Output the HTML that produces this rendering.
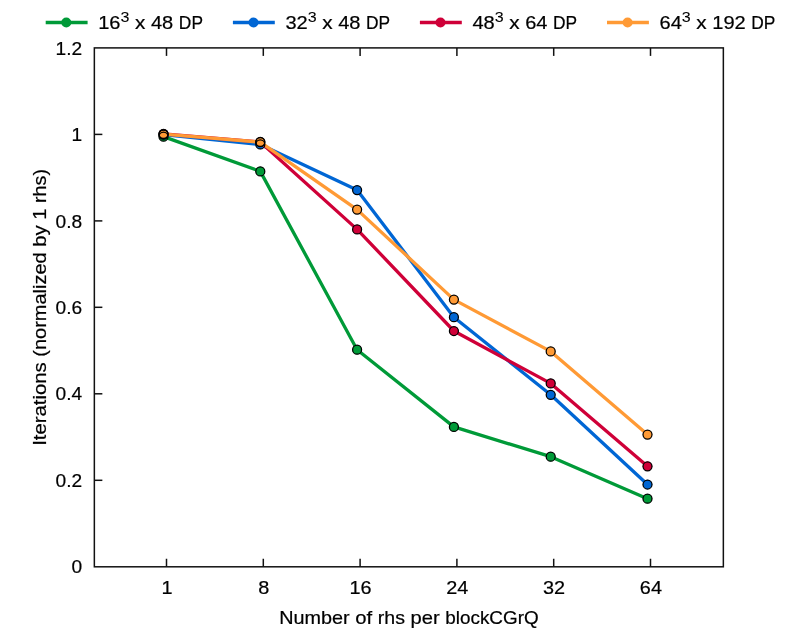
<!DOCTYPE html>
<html><head><meta charset="utf-8"><title>chart</title>
<style>
html,body{margin:0;padding:0;background:#fff;}
svg{display:block;will-change:transform;}
text{font-family:"Liberation Sans",sans-serif;fill:#000;stroke:#000;stroke-width:0.2px;}
</style></head><body>
<svg width="789" height="631" viewBox="0 0 789 631">
<rect x="0" y="0" width="789" height="631" fill="#ffffff"/>
<polyline points="163.5,136.65 260.3,171.40 357.1,349.70 453.9,426.90 550.7,456.70 647.5,498.70" fill="none" stroke="#009a38" stroke-width="3.3" stroke-linejoin="round" stroke-linecap="butt"/>
<circle cx="163.5" cy="136.65" r="4.7" fill="#009a38"/>
<circle cx="260.3" cy="171.40" r="4.7" fill="#009a38"/>
<circle cx="357.1" cy="349.70" r="4.7" fill="#009a38"/>
<circle cx="453.9" cy="426.90" r="4.7" fill="#009a38"/>
<circle cx="550.7" cy="456.70" r="4.7" fill="#009a38"/>
<circle cx="647.5" cy="498.70" r="4.7" fill="#009a38"/>
<polyline points="163.5,134.70 260.3,144.45 357.1,190.10 453.9,317.20 550.7,394.80 647.5,484.50" fill="none" stroke="#0066d4" stroke-width="3.3" stroke-linejoin="round" stroke-linecap="butt"/>
<circle cx="163.5" cy="134.70" r="4.7" fill="#0066d4"/>
<circle cx="260.3" cy="144.45" r="4.7" fill="#0066d4"/>
<circle cx="357.1" cy="190.10" r="4.7" fill="#0066d4"/>
<circle cx="453.9" cy="317.20" r="4.7" fill="#0066d4"/>
<circle cx="550.7" cy="394.80" r="4.7" fill="#0066d4"/>
<circle cx="647.5" cy="484.50" r="4.7" fill="#0066d4"/>
<polyline points="163.5,133.90 260.3,141.95 357.1,229.40 453.9,331.00 550.7,383.40 647.5,466.30" fill="none" stroke="#cf0038" stroke-width="3.3" stroke-linejoin="round" stroke-linecap="butt"/>
<circle cx="163.5" cy="133.90" r="4.7" fill="#cf0038"/>
<circle cx="260.3" cy="141.95" r="4.7" fill="#cf0038"/>
<circle cx="357.1" cy="229.40" r="4.7" fill="#cf0038"/>
<circle cx="453.9" cy="331.00" r="4.7" fill="#cf0038"/>
<circle cx="550.7" cy="383.40" r="4.7" fill="#cf0038"/>
<circle cx="647.5" cy="466.30" r="4.7" fill="#cf0038"/>
<polyline points="163.5,134.10 260.3,142.10 357.1,209.60 453.9,299.60 550.7,351.40 647.5,434.60" fill="none" stroke="#ff9a35" stroke-width="3.3" stroke-linejoin="round" stroke-linecap="butt"/>
<circle cx="163.5" cy="134.10" r="4.7" fill="#ff9a35"/>
<circle cx="260.3" cy="142.10" r="4.7" fill="#ff9a35"/>
<circle cx="357.1" cy="209.60" r="4.7" fill="#ff9a35"/>
<circle cx="453.9" cy="299.60" r="4.7" fill="#ff9a35"/>
<circle cx="550.7" cy="351.40" r="4.7" fill="#ff9a35"/>
<circle cx="647.5" cy="434.60" r="4.7" fill="#ff9a35"/>
<circle cx="163.5" cy="136.65" r="4.5" fill="none" stroke="#000" stroke-width="1.25"/>
<circle cx="260.3" cy="171.40" r="4.5" fill="none" stroke="#000" stroke-width="1.25"/>
<circle cx="357.1" cy="349.70" r="4.5" fill="none" stroke="#000" stroke-width="1.25"/>
<circle cx="453.9" cy="426.90" r="4.5" fill="none" stroke="#000" stroke-width="1.25"/>
<circle cx="550.7" cy="456.70" r="4.5" fill="none" stroke="#000" stroke-width="1.25"/>
<circle cx="647.5" cy="498.70" r="4.5" fill="none" stroke="#000" stroke-width="1.25"/>
<circle cx="163.5" cy="134.70" r="4.5" fill="none" stroke="#000" stroke-width="1.25"/>
<circle cx="260.3" cy="144.45" r="4.5" fill="none" stroke="#000" stroke-width="1.25"/>
<circle cx="357.1" cy="190.10" r="4.5" fill="none" stroke="#000" stroke-width="1.25"/>
<circle cx="453.9" cy="317.20" r="4.5" fill="none" stroke="#000" stroke-width="1.25"/>
<circle cx="550.7" cy="394.80" r="4.5" fill="none" stroke="#000" stroke-width="1.25"/>
<circle cx="647.5" cy="484.50" r="4.5" fill="none" stroke="#000" stroke-width="1.25"/>
<circle cx="163.5" cy="133.90" r="4.5" fill="none" stroke="#000" stroke-width="1.25"/>
<circle cx="260.3" cy="141.95" r="4.5" fill="none" stroke="#000" stroke-width="1.25"/>
<circle cx="357.1" cy="229.40" r="4.5" fill="none" stroke="#000" stroke-width="1.25"/>
<circle cx="453.9" cy="331.00" r="4.5" fill="none" stroke="#000" stroke-width="1.25"/>
<circle cx="550.7" cy="383.40" r="4.5" fill="none" stroke="#000" stroke-width="1.25"/>
<circle cx="647.5" cy="466.30" r="4.5" fill="none" stroke="#000" stroke-width="1.25"/>
<circle cx="163.5" cy="134.10" r="4.5" fill="none" stroke="#000" stroke-width="1.25"/>
<circle cx="260.3" cy="142.10" r="4.5" fill="none" stroke="#000" stroke-width="1.25"/>
<circle cx="357.1" cy="209.60" r="4.5" fill="none" stroke="#000" stroke-width="1.25"/>
<circle cx="453.9" cy="299.60" r="4.5" fill="none" stroke="#000" stroke-width="1.25"/>
<circle cx="550.7" cy="351.40" r="4.5" fill="none" stroke="#000" stroke-width="1.25"/>
<circle cx="647.5" cy="434.60" r="4.5" fill="none" stroke="#000" stroke-width="1.25"/>
<rect x="94.35" y="47.9" width="629.0" height="518.9" fill="none" stroke="#111" stroke-width="1.5"/>
<line x1="166.5" y1="566.75" x2="166.5" y2="558.75" stroke="#111" stroke-width="1.5"/>
<line x1="166.5" y1="47.9" x2="166.5" y2="55.9" stroke="#111" stroke-width="1.5"/>
<line x1="263.3" y1="566.75" x2="263.3" y2="558.75" stroke="#111" stroke-width="1.5"/>
<line x1="263.3" y1="47.9" x2="263.3" y2="55.9" stroke="#111" stroke-width="1.5"/>
<line x1="360.1" y1="566.75" x2="360.1" y2="558.75" stroke="#111" stroke-width="1.5"/>
<line x1="360.1" y1="47.9" x2="360.1" y2="55.9" stroke="#111" stroke-width="1.5"/>
<line x1="456.9" y1="566.75" x2="456.9" y2="558.75" stroke="#111" stroke-width="1.5"/>
<line x1="456.9" y1="47.9" x2="456.9" y2="55.9" stroke="#111" stroke-width="1.5"/>
<line x1="553.7" y1="566.75" x2="553.7" y2="558.75" stroke="#111" stroke-width="1.5"/>
<line x1="553.7" y1="47.9" x2="553.7" y2="55.9" stroke="#111" stroke-width="1.5"/>
<line x1="650.5" y1="566.75" x2="650.5" y2="558.75" stroke="#111" stroke-width="1.5"/>
<line x1="650.5" y1="47.9" x2="650.5" y2="55.9" stroke="#111" stroke-width="1.5"/>
<line x1="94.35" y1="134.4" x2="102.35" y2="134.4" stroke="#111" stroke-width="1.5"/>
<line x1="94.35" y1="220.9" x2="102.35" y2="220.9" stroke="#111" stroke-width="1.5"/>
<line x1="94.35" y1="307.3" x2="102.35" y2="307.3" stroke="#111" stroke-width="1.5"/>
<line x1="94.35" y1="393.8" x2="102.35" y2="393.8" stroke="#111" stroke-width="1.5"/>
<line x1="94.35" y1="480.3" x2="102.35" y2="480.3" stroke="#111" stroke-width="1.5"/>
<text transform="translate(82.2,54.5) scale(1.07,1)" font-size="17.9" text-anchor="end">1.2</text>
<text transform="translate(82.2,141.0) scale(1.07,1)" font-size="17.9" text-anchor="end">1</text>
<text transform="translate(82.2,227.5) scale(1.07,1)" font-size="17.9" text-anchor="end">0.8</text>
<text transform="translate(82.2,313.9) scale(1.07,1)" font-size="17.9" text-anchor="end">0.6</text>
<text transform="translate(82.2,400.4) scale(1.07,1)" font-size="17.9" text-anchor="end">0.4</text>
<text transform="translate(82.2,486.9) scale(1.07,1)" font-size="17.9" text-anchor="end">0.2</text>
<text transform="translate(82.2,573.4) scale(1.07,1)" font-size="17.9" text-anchor="end">0</text>
<text transform="translate(166.9,593.8) scale(1.11,1)" font-size="17.9" text-anchor="middle">1</text>
<text transform="translate(263.7,593.8) scale(1.11,1)" font-size="17.9" text-anchor="middle">8</text>
<text transform="translate(360.5,593.8) scale(1.11,1)" font-size="17.9" text-anchor="middle">16</text>
<text transform="translate(457.3,593.8) scale(1.11,1)" font-size="17.9" text-anchor="middle">24</text>
<text transform="translate(554.1,593.8) scale(1.11,1)" font-size="17.9" text-anchor="middle">32</text>
<text transform="translate(650.9,593.8) scale(1.11,1)" font-size="17.9" text-anchor="middle">64</text>
<text y="623.8" font-size="17.9"><tspan x="279.22" textLength="70.50" lengthAdjust="spacingAndGlyphs">Number</tspan> <tspan x="355.29" textLength="16.91" lengthAdjust="spacingAndGlyphs">of</tspan> <tspan x="377.78" textLength="27.17" lengthAdjust="spacingAndGlyphs">rhs</tspan> <tspan x="410.53" textLength="29.16" lengthAdjust="spacingAndGlyphs">per</tspan> <tspan x="445.26" textLength="93.42" lengthAdjust="spacingAndGlyphs">blockCGrQ</tspan></text>
<text transform="translate(46.3,307.4) rotate(-90)" y="0" font-size="17.9"><tspan x="-138.46" textLength="83.56" lengthAdjust="spacingAndGlyphs">Iterations</tspan> <tspan x="-49.32" textLength="104.34" lengthAdjust="spacingAndGlyphs">(normalized</tspan> <tspan x="60.60" textLength="21.53" lengthAdjust="spacingAndGlyphs">by</tspan> <tspan x="87.71" textLength="11.16" lengthAdjust="spacingAndGlyphs">1</tspan> <tspan x="104.45" textLength="34.02" lengthAdjust="spacingAndGlyphs">rhs)</tspan></text>
<line x1="45.7" y1="22.5" x2="87.6" y2="22.5" stroke="#009a38" stroke-width="3.5999999999999996"/>
<circle cx="66.3" cy="22.5" r="5.0" fill="#009a38"/>
<text y="28.8" font-size="17.9"><tspan x="98.20" textLength="22.31" lengthAdjust="spacingAndGlyphs">16</tspan><tspan x="120.51" dy="-6.4" font-size="14.3" style="stroke-width:0.05px" textLength="8.92" lengthAdjust="spacingAndGlyphs">3</tspan> <tspan x="135.01" dy="6.4" textLength="10.39" lengthAdjust="spacingAndGlyphs">x</tspan> <tspan x="150.98" textLength="22.31" lengthAdjust="spacingAndGlyphs">48</tspan> <tspan x="178.87" textLength="24.09" lengthAdjust="spacingAndGlyphs">DP</tspan></text>
<line x1="232.9" y1="22.5" x2="274.8" y2="22.5" stroke="#0066d4" stroke-width="3.5999999999999996"/>
<circle cx="253.5" cy="22.5" r="5.0" fill="#0066d4"/>
<text y="28.8" font-size="17.9"><tspan x="285.40" textLength="22.31" lengthAdjust="spacingAndGlyphs">32</tspan><tspan x="307.71" dy="-6.4" font-size="14.3" style="stroke-width:0.05px" textLength="8.92" lengthAdjust="spacingAndGlyphs">3</tspan> <tspan x="322.21" dy="6.4" textLength="10.39" lengthAdjust="spacingAndGlyphs">x</tspan> <tspan x="338.18" textLength="22.31" lengthAdjust="spacingAndGlyphs">48</tspan> <tspan x="366.07" textLength="24.09" lengthAdjust="spacingAndGlyphs">DP</tspan></text>
<line x1="419.9" y1="22.5" x2="461.8" y2="22.5" stroke="#cf0038" stroke-width="3.5999999999999996"/>
<circle cx="440.5" cy="22.5" r="5.0" fill="#cf0038"/>
<text y="28.8" font-size="17.9"><tspan x="472.40" textLength="22.31" lengthAdjust="spacingAndGlyphs">48</tspan><tspan x="494.71" dy="-6.4" font-size="14.3" style="stroke-width:0.05px" textLength="8.92" lengthAdjust="spacingAndGlyphs">3</tspan> <tspan x="509.21" dy="6.4" textLength="10.39" lengthAdjust="spacingAndGlyphs">x</tspan> <tspan x="525.18" textLength="22.31" lengthAdjust="spacingAndGlyphs">64</tspan> <tspan x="553.07" textLength="24.09" lengthAdjust="spacingAndGlyphs">DP</tspan></text>
<line x1="607.0" y1="22.5" x2="648.9" y2="22.5" stroke="#ff9a35" stroke-width="3.5999999999999996"/>
<circle cx="627.6" cy="22.5" r="5.0" fill="#ff9a35"/>
<text y="28.8" font-size="17.9"><tspan x="659.50" textLength="22.31" lengthAdjust="spacingAndGlyphs">64</tspan><tspan x="681.81" dy="-6.4" font-size="14.3" style="stroke-width:0.05px" textLength="8.92" lengthAdjust="spacingAndGlyphs">3</tspan> <tspan x="696.31" dy="6.4" textLength="10.39" lengthAdjust="spacingAndGlyphs">x</tspan> <tspan x="712.28" textLength="33.47" lengthAdjust="spacingAndGlyphs">192</tspan> <tspan x="751.33" textLength="24.09" lengthAdjust="spacingAndGlyphs">DP</tspan></text>
</svg></body></html>
